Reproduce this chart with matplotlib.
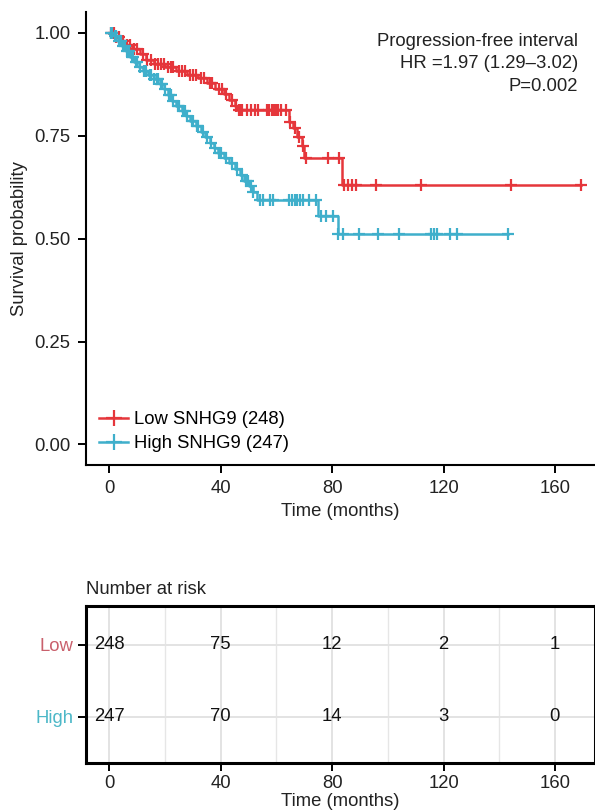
import numpy as np
import matplotlib.pyplot as plt
from matplotlib.ticker import MultipleLocator

plt.rcParams['font.family'] = ['Liberation Sans', 'DejaVu Sans']

# Kaplan-Meier steps (time in months, survival after step)
low_time = [0, 2, 4, 6, 8, 11, 13, 16, 20, 24, 28, 32, 35, 38, 41, 43, 45, 46,
            64.5, 66, 67.5, 69, 70, 83.5]
low_surv = [1.0, 0.99, 0.98, 0.97, 0.962, 0.95, 0.935, 0.925, 0.918, 0.908, 0.898,
            0.89, 0.878, 0.865, 0.852, 0.838, 0.822, 0.812,
            0.784, 0.77, 0.748, 0.725, 0.697, 0.631]
low_end = 169.5
low_censor = [0.5, 1.5, 2.5, 3.5, 5, 6.5, 7.5, 9, 10, 12, 13.5, 15, 16.5, 17.5, 18.5,
              19.5, 21, 22, 23, 25, 26, 27, 29, 30, 31, 33, 34, 36, 37, 39.5, 40.5,
              42, 44, 45.5, 46.5, 47.2, 47.8, 49.5, 51, 52.4, 53.5, 56.7, 57.5, 58.3,
              59, 59.8, 60.5, 61.5, 63.5, 64.8, 66.5, 68, 69.5, 70.5, 78.5, 82.5,
              84.4, 85.8, 87.3, 88.7, 95.6, 112, 144.4, 169.5]

high_time = [0, 1.5, 3, 4.5, 6, 7.5, 9, 10.5, 12, 14, 16, 18, 19.5, 21, 22.5, 24,
             26, 27.5, 29, 31, 33, 34.5, 36, 37.5, 39, 41, 43, 45, 47, 48.5, 50,
             51.5, 53, 75, 82]
high_surv = [1.0, 0.992, 0.98, 0.968, 0.955, 0.942, 0.93, 0.918, 0.908, 0.898, 0.888,
             0.876, 0.864, 0.85, 0.835, 0.822, 0.81, 0.797, 0.786, 0.774, 0.76, 0.746,
             0.733, 0.72, 0.708, 0.696, 0.684, 0.67, 0.655, 0.64, 0.627, 0.613, 0.595,
             0.556, 0.512]
high_end = 143.3
high_censor = [0.5, 1, 2, 2.5, 3.5, 4, 5, 5.5, 6.5, 7, 8, 8.5, 9.5, 10, 11, 12.5, 13,
               14.5, 15, 16, 17, 17.5, 18.5, 19, 20, 21.5, 22, 23, 24.5, 25, 26.5, 27,
               28, 29.5, 30, 31.5, 32, 33.5, 35, 36.5, 38, 39.5, 40, 42, 44, 46, 47.5,
               49, 49.8, 51, 51.6, 54.2, 55.3, 57.8, 58.9, 64.4, 65.5, 66.5, 67.5,
               68.5, 69.5, 71.6, 74.2, 76, 77.8, 80.4, 82.2, 84, 89.8, 96.4, 104,
               115.6, 116.7, 117.5, 122.2, 125, 143.3]

groups = ["Low", "High"]
legend_labels = ["Low SNHG9 (248)", "High SNHG9 (247)"]
risk_times = [0, 40, 80, 120, 160]
risk_low = [248, 75, 12, 2, 1]
risk_high = [247, 70, 14, 3, 0]

red = '#E5363B'
blue = '#3FAFCB'
fs = 13.3


def step_value(times, surv, t):
    i = np.searchsorted(times, t, side='right') - 1
    return np.array(surv)[i]


fig = plt.figure(figsize=(5.95, 8.1), dpi=100)
ax = fig.add_axes([86 / 595, 1 - 465 / 810, 1 - 86 / 595, (465 - 12.4) / 810])

curves = [(low_time, low_surv, low_end, low_censor, red),
          (high_time, high_surv, high_end, high_censor, blue)]
handles = []
for (t, s, end, cens, col), lab in zip(curves, legend_labels):
    tt = list(t) + [end]
    ss = list(s) + [s[-1]]
    ax.step(tt, ss, where='post', color=col, lw=1.8)
    cy = [step_value(t, s, c) for c in cens]
    ax.plot(cens, cy, ls='none', marker='+', ms=9, mew=1.6, color=col)
    h, = ax.plot([], [], color=col, lw=1.8, marker='+', ms=12, mew=1.6)
    handles.append(h)

ax.set_xlim(-8.4, 174.4)
ax.set_ylim(-0.05, 1.05)
ax.set_xticks([0, 40, 80, 120, 160])
ax.set_yticks([0, 0.25, 0.5, 0.75, 1.0])
ax.set_yticklabels(['0.00', '0.25', '0.50', '0.75', '1.00'])
for sp in ['top', 'right']:
    ax.spines[sp].set_visible(False)
for sp in ['left', 'bottom']:
    ax.spines[sp].set_linewidth(1.5)
ax.tick_params(direction='out', length=6, width=1.4, labelsize=fs, colors='black',
               labelcolor='#222222', pad=5)
ax.set_xlabel('Time (months)', fontsize=fs, color='#222222', labelpad=4)
ax.set_ylabel('Survival probability', fontsize=fs, color='#222222', labelpad=5)

ax.legend(handles, legend_labels, loc='lower left', bbox_to_anchor=(0.0, 0.0),
          frameon=False, fontsize=fs, handlelength=1.6, handletextpad=0.3,
          labelspacing=0.36, borderaxespad=0.3)

ax.text(0.967, 0.935, 'Progression-free interval', transform=ax.transAxes,
        ha='right', va='center', fontsize=fs, color='#222222')
ax.text(0.967, 0.886, 'HR =1.97 (1.29\u20133.02)', transform=ax.transAxes,
        ha='right', va='center', fontsize=fs, color='#222222')
ax.text(0.967, 0.836, 'P=0.002', transform=ax.transAxes,
        ha='right', va='center', fontsize=fs, color='#222222')

# risk table
tab = fig.add_axes([86 / 595, 1 - 763 / 810, 1 - 86 / 595, (763 - 606) / 810])
tab.set_xlim(-8.4, 174.4)
tab.set_ylim(0.36, 2.54)
tab.xaxis.set_major_locator(MultipleLocator(40))
tab.xaxis.set_minor_locator(MultipleLocator(20))
tab.set_yticks([2, 1])
tab.set_yticklabels(groups)
tab.grid(True, which='major', color='#E3E3E3', lw=1.4)
tab.grid(True, which='minor', axis='x', color='#E6E6E6', lw=1.0)
tab.set_axisbelow(True)
for sp in tab.spines.values():
    sp.set_linewidth(2.2)
tab.tick_params(which='major', direction='out', length=6, width=1.4, labelsize=fs,
                labelcolor='#222222', pad=3)
tab.tick_params(which='minor', length=0)
tab.get_yticklabels()[0].set_color('#C9606C')
tab.get_yticklabels()[1].set_color('#4DB8C8')
for x, lo, hi in zip(risk_times, risk_low, risk_high):
    tab.text(x, 2, str(lo), ha='center', va='center', fontsize=fs, color='#111111')
    tab.text(x, 1, str(hi), ha='center', va='center', fontsize=fs, color='#111111')
tab.set_xlabel('Time (months)', fontsize=fs, color='#222222', labelpad=0)
fig.text(86 / 595, 1 - 590 / 810, 'Number at risk', ha='left', va='center',
         fontsize=fs, color='#222222')

fig.savefig('out.png', dpi=100)
